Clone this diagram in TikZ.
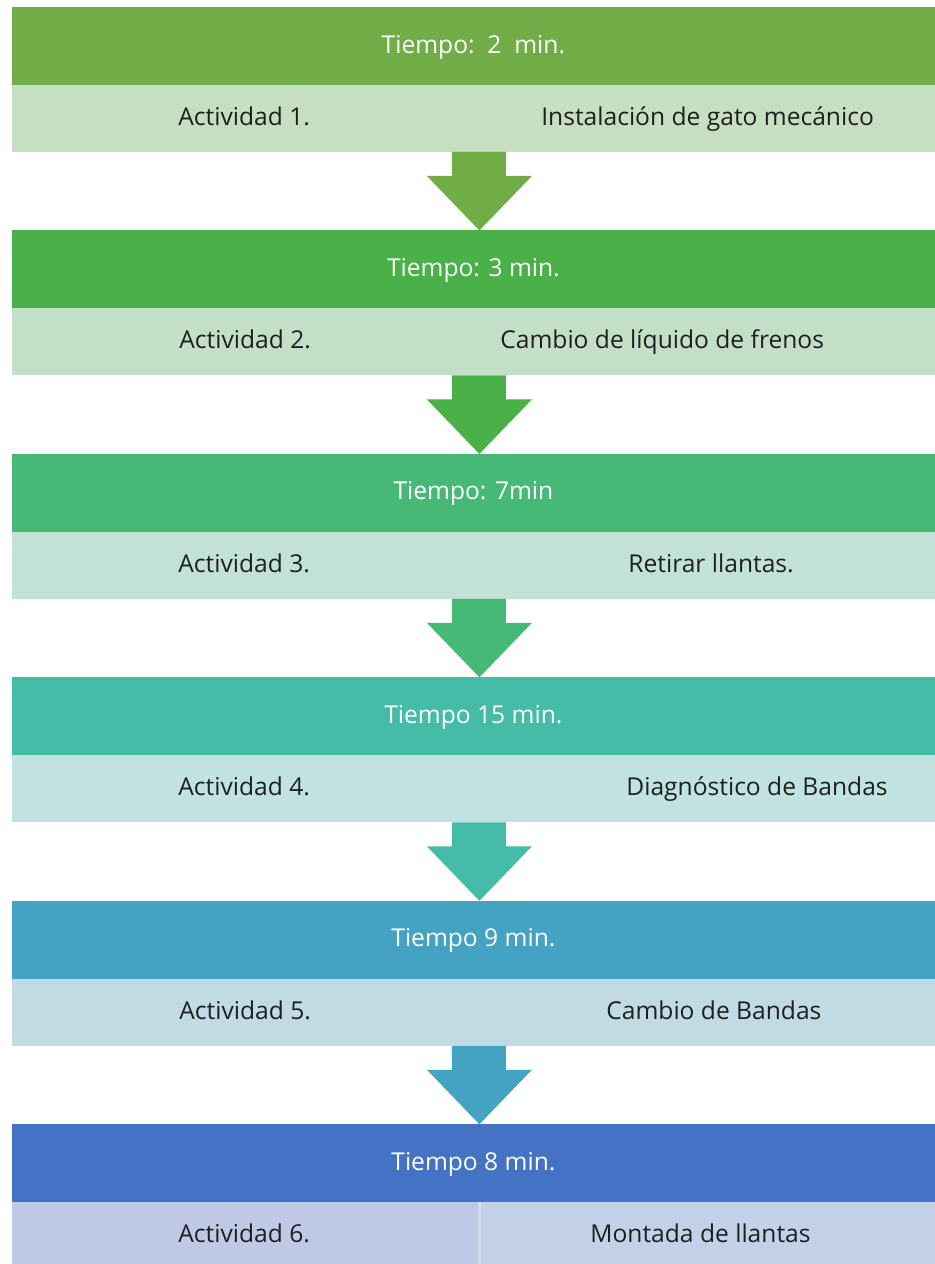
\documentclass[tikz,border=0pt]{standalone}
\usepackage{fontspec}
\setmainfont{Open Sans}
\usetikzlibrary{positioning, calc}

\definecolor{headA}{HTML}{70AD47}
\definecolor{headB}{HTML}{4AB048}
\definecolor{headC}{HTML}{47B977}
\definecolor{headD}{HTML}{44BCA7}
\definecolor{headE}{HTML}{44A3C2}
\definecolor{headF}{HTML}{4472C4}
\definecolor{subA}{HTML}{C6DFC1}
\definecolor{subB}{HTML}{C3DFC7}
\definecolor{subC}{HTML}{C1E2D5}
\definecolor{subD}{HTML}{C0E3E1}
\definecolor{subE}{HTML}{C1DBE4}
\definecolor{subF}{HTML}{BFC9E6}
\definecolor{subFb}{HTML}{C2D0E8}
\definecolor{subline}{HTML}{D3D9EE}

\tikzset{
  head/.style = {
    fill=#1, text=white, rectangle, inner sep=0pt, outer sep=0pt,
    minimum width=18.46cm, minimum height=1.56cm,
    text height=11pt, text depth=3pt,
    font=\fontsize{14}{16}\selectfont
  },
  subrow/.style = {
    fill=#1, rectangle, inner sep=0pt, outer sep=0pt,
    minimum width=18.46cm, minimum height=1.34cm
  },
  label/.style = {
    anchor=west, inner sep=0pt, text=black!88,
    text height=11pt, text depth=3pt,
    font=\fontsize{14}{16}\selectfont
  }
}

\begin{document}
\begin{tikzpicture}[x=0.02cm, y=-0.02cm, node distance=1.57cm]
  \useasboundingbox (0,0) rectangle (935,1264);

  % Step 1
  \node[head=headA, anchor=north west] (head1) at (12,7) {Tiempo:\ \ 2\ \ min.};
  \node[subrow=subA, below=0pt of head1] (sub1) {};
  \node[label] (act1) at (178,0 |- sub1.center) {Actividad 1.};
  \node[label] (task1) at (541,0 |- sub1.center) {Instalación de gato mecánico};

  % Step 2
  \node[head=headB, below=of sub1] (head2) {Tiempo: 3 min.};
  \node[subrow=subB, below=0pt of head2] (sub2) {};
  \node[label] (act2) at (179,0 |- sub2.center) {Actividad 2.};
  \node[label] (task2) at (500,0 |- sub2.center) {Cambio de líquido de frenos};

  % Step 3
  \node[head=headC, below=of sub2] (head3) {Tiempo: 7min};
  \node[subrow=subC, below=0pt of head3] (sub3) {};
  \node[label] (act3) at (178,0 |- sub3.center) {Actividad 3.};
  \node[label] (task3) at (628,0 |- sub3.center) {Retirar llantas.};

  % Step 4
  \node[head=headD, below=of sub3] (head4) {Tiempo 15 min.};
  \node[subrow=subD, below=0pt of head4] (sub4) {};
  \node[label] (act4) at (178,0 |- sub4.center) {Actividad 4.};
  \node[label] (task4) at (626,0 |- sub4.center) {Diagnóstico de Bandas};

  % Step 5
  \node[head=headE, below=of sub4] (head5) {Tiempo 9 min.};
  \node[subrow=subE, below=0pt of head5] (sub5) {};
  \node[label] (act5) at (179,0 |- sub5.center) {Actividad 5.};
  \node[label] (task5) at (606,0 |- sub5.center) {Cambio de Bandas};

  % Step 6
  \node[head=headF, below=of sub5] (head6) {Tiempo 8 min.};
  \node[subrow=subF, below=0pt of head6] (sub6) {};
  \fill[subFb] ($(sub6.north)+(6,0)$) rectangle (sub6.south east);
  \draw[subline, line width=0.06cm] ($(sub6.north)+(6,0)$) -- ($(sub6.south)+(6,0)$);
  \node[label] (act6) at (178,0 |- sub6.center) {Actividad 6.};
  \node[label] (task6) at (590,0 |- sub6.center) {Montada de llantas};

  % Arrows between the steps
  \fill[headA] ($(sub1.south)+(-21.5,0)$) -- ($(sub1.south)+(32.5,0)$) -- ($(sub1.south)+(32.5,24)$)
    -- ($(sub1.south)+(58.5,24)$) -- ($(head2.north)+(6,0)$) -- ($(sub1.south)+(-46.5,24)$)
    -- ($(sub1.south)+(-21.5,24)$) -- cycle;
  \fill[headB] ($(sub2.south)+(-21.5,0)$) -- ($(sub2.south)+(32.5,0)$) -- ($(sub2.south)+(32.5,24)$)
    -- ($(sub2.south)+(58.5,24)$) -- ($(head3.north)+(6,0)$) -- ($(sub2.south)+(-46.5,24)$)
    -- ($(sub2.south)+(-21.5,24)$) -- cycle;
  \fill[headC] ($(sub3.south)+(-21.5,0)$) -- ($(sub3.south)+(32.5,0)$) -- ($(sub3.south)+(32.5,24)$)
    -- ($(sub3.south)+(58.5,24)$) -- ($(head4.north)+(6,0)$) -- ($(sub3.south)+(-46.5,24)$)
    -- ($(sub3.south)+(-21.5,24)$) -- cycle;
  \fill[headD] ($(sub4.south)+(-21.5,0)$) -- ($(sub4.south)+(32.5,0)$) -- ($(sub4.south)+(32.5,24)$)
    -- ($(sub4.south)+(58.5,24)$) -- ($(head5.north)+(6,0)$) -- ($(sub4.south)+(-46.5,24)$)
    -- ($(sub4.south)+(-21.5,24)$) -- cycle;
  \fill[headE] ($(sub5.south)+(-21.5,0)$) -- ($(sub5.south)+(32.5,0)$) -- ($(sub5.south)+(32.5,24)$)
    -- ($(sub5.south)+(58.5,24)$) -- ($(head6.north)+(6,0)$) -- ($(sub5.south)+(-46.5,24)$)
    -- ($(sub5.south)+(-21.5,24)$) -- cycle;

\end{tikzpicture}
\end{document}
